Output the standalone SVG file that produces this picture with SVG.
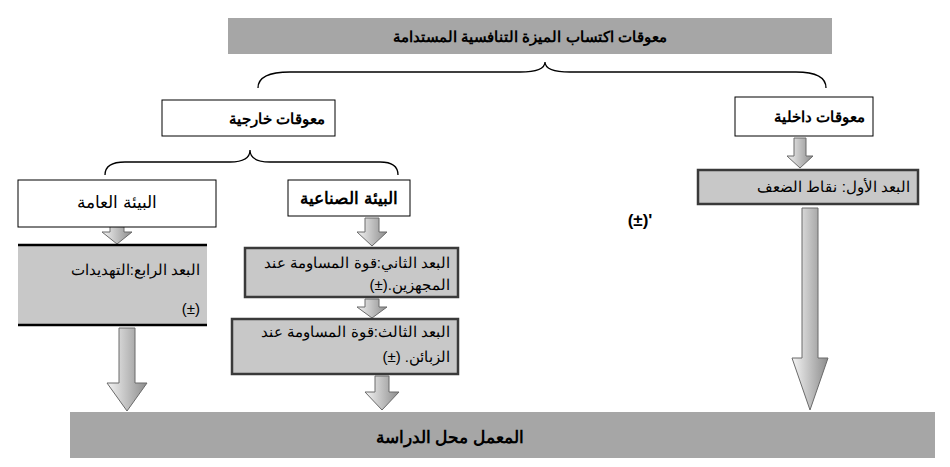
<svg xmlns="http://www.w3.org/2000/svg" width="950" height="467" viewBox="0 0 950 467">
<style>
text{font-family:"Liberation Sans",Arial,sans-serif;fill:#000}
.b{font-weight:bold}
.bar{fill:#a6a6a6}
.wb{fill:#fff;stroke:#000;stroke-width:1}
.gb{fill:#c8c8c8;stroke:#3a3a3a;stroke-width:2.5}
.br{fill:none;stroke:#000;stroke-width:1.3}
.ar{fill:url(#g);stroke:#6a6a6a;stroke-width:1}
</style>
<defs>
<linearGradient id="g" x1="0" y1="0" x2="1" y2="0">
<stop offset="0" stop-color="#f4f4f4"/><stop offset="1" stop-color="#8c8c8c"/>
</linearGradient>
</defs>
<g id="title"><rect class="bar" x="228" y="18" width="604" height="36"/><text class="b" x="530" y="42" font-size="15" text-anchor="middle" direction="rtl">معوقات اكتساب الميزة التنافسية المستدامة</text></g>
<g id="connectors">
<path class="br" d="M258,88 Q258,72 290,72 L520,72 Q545,72 545,62 Q545,72 570,72 L796,72 Q826,72 826,88"/>
<path class="br" d="M105,175 Q105,162 125,162 L230,162 Q250,162 250,150 Q250,162 270,162 L380,162 Q398,162 398,175"/>
<path class="ar" d="M794,138 h12 v18 h7 l-13,12 l-13,-12 h7 z"/>
<path class="ar" d="M802,208 h16 v150 h10 l-18,52 l-18,-52 h10 z"/>
<path class="ar" d="M110,220 h14 v12 h8 l-15,12 l-15,-12 h8 z"/>
<path class="ar" d="M119,328 h16 v55 h12 l-20,28 l-20,-28 h12 z"/>
<path class="ar" d="M365,218 h14 v14 h8 l-15,14 l-15,-14 h8 z"/>
<path class="ar" d="M365,299 h14 v8 h8 l-15,11 l-15,-11 h8 z"/>
<path class="ar" d="M375,376 h14 v16 h10 l-17,18 l-17,-18 h10 z"/>
</g>
<g id="external"><rect class="wb" x="162" y="100" width="173" height="36"/><text class="b" x="325" y="124" font-size="15" text-anchor="start" direction="rtl">معوقات خارجية</text></g>
<g id="internal"><rect class="wb" x="735" y="97" width="138" height="39"/><text class="b" x="865" y="122" font-size="15" text-anchor="start" direction="rtl">معوقات داخلية</text></g>
<g id="general"><rect class="wb" x="18" y="180" width="198" height="47"/><text x="117" y="208" font-size="17" text-anchor="middle" direction="rtl">البيئة العامة</text></g>
<g id="industrial"><rect class="wb" x="288" y="180" width="122" height="36"/><text class="b" x="349" y="204" font-size="17" text-anchor="middle" direction="rtl">البيئة الصناعية</text></g>
<g id="dim1"><rect class="gb" x="698" y="170" width="220" height="34"/><text x="910" y="192" font-size="15" text-anchor="start" direction="rtl">البعد الأول: نقاط الضعف</text></g>
<g id="pm"><text class="b" x="640" y="226" font-size="17" text-anchor="middle">(±)'</text></g>
<g id="dim4"><rect x="18" y="245" width="189" height="80" fill="#c8c8c8"/><line x1="18" y1="245" x2="207" y2="245" stroke="#000" stroke-width="2.5"/><line x1="18" y1="325" x2="207" y2="325" stroke="#000" stroke-width="2.5"/><text x="200" y="275" font-size="15" text-anchor="start" direction="rtl">البعد الرابع:التهديدات</text><text x="200" y="314" font-size="15" text-anchor="end">(±)</text></g>
<g id="dim2"><rect class="gb" x="245" y="248" width="213" height="49"/><text x="450" y="268" font-size="15" text-anchor="start" direction="rtl">البعد الثاني:قوة المساومة عند</text><text x="450" y="290" font-size="15" text-anchor="start" direction="rtl">المجهزين.(±)</text></g>
<g id="dim3"><rect class="gb" x="232" y="319" width="226" height="55"/><text x="450" y="337" font-size="15" text-anchor="start" direction="rtl">البعد الثالث:قوة المساومة عند</text><text x="450" y="362" font-size="15" text-anchor="start" direction="rtl">الزبائن.  (±)</text></g>
<g id="lab"><rect class="bar" x="70" y="412" width="865" height="46"/><text class="b" x="450" y="443" font-size="17" text-anchor="middle" direction="rtl">المعمل محل الدراسة</text></g>
</svg>
